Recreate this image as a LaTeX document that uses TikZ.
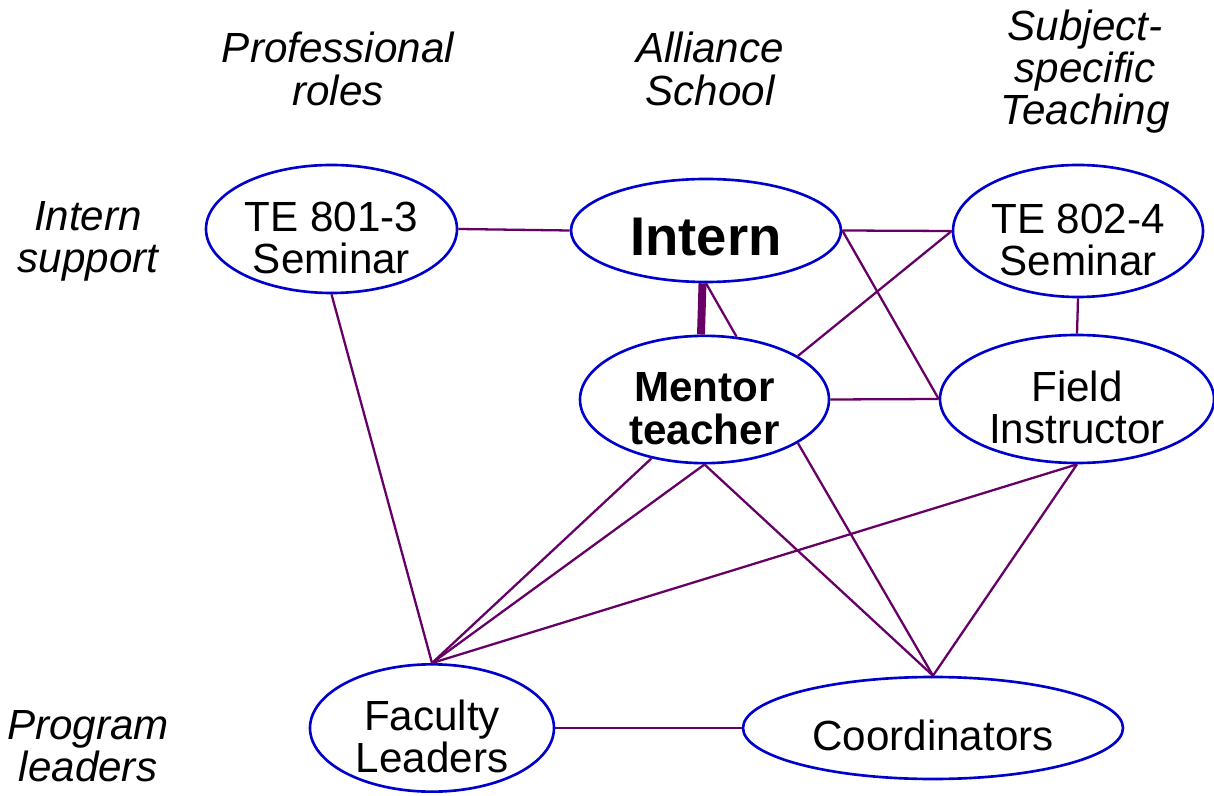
\documentclass[tikz,border=0pt]{standalone}
\usepackage{fontspec}
\setmainfont{Liberation Sans}
\usetikzlibrary{shapes.geometric}
\usepackage{xcolor}
\definecolor{ovalblue}{RGB}{0,0,204}
\definecolor{linkpurple}{RGB}{102,0,102}

\begin{document}
\begin{tikzpicture}[scale=1,
  oval/.style={ellipse, draw=ovalblue, line width=1.5pt, fill=white, inner sep=0pt, align=center, font=\fontsize{24}{24}\selectfont, execute at begin node={\rule{0pt}{#1}}},
  oval/.default=26pt,
  head/.style={align=center, inner sep=0pt, font=\fontsize{24}{24}\selectfont\itshape},
  link/.style={linkpurple, line width=1.3pt},
  biglink/.style={linkpurple, line width=4.5pt}]

\useasboundingbox (0,0) rectangle (24.28,15.9);

% column and row headings
\node[head] (hprof) at (6.76,14.52) {Professional\\roles};
\node[head] (hall) at (14.2,14.52) {Alliance\\School};
\node[head] (hsubj) at (21.7,14.47) {Subject-\\specific\\Teaching};
\node[head] (hsup) at (1.76,11.07) {Intern\\support};
\node[head] (hprog) at (1.76,0.97) {Program\\leaders};

% the ovals
\node[oval=51pt, minimum width=5.02cm, minimum height=2.56cm] (sem1) at (6.63,11.32) {TE 801-3\\Seminar};
\node[oval=29pt, minimum width=5.40cm, minimum height=2.06cm, font=\fontsize{31}{31}\selectfont\bfseries] (intern) at (14.12,11.29) {Intern};
\node[oval=51pt, minimum width=5.00cm, minimum height=2.64cm] (sem2) at (21.56,11.28) {TE 802-4\\Seminar};
\node[oval=51pt, minimum width=4.98cm, minimum height=2.54cm, font=\fontsize{24}{24}\selectfont\bfseries] (mentor) at (14.09,7.91) {Mentor\\teacher};
\node[oval=51pt, minimum width=5.48cm, minimum height=2.56cm] (field) at (21.54,7.92) {Field\\Instructor};
\node[oval=51pt, minimum width=4.88cm, minimum height=2.52cm] (faculty) at (8.64,1.34) {Faculty\\Leaders};
\node[oval, minimum width=7.60cm, minimum height=2.04cm] (coord) at (18.66,1.34) {Coordinators};

% links
\draw[link] (sem1.east) -- (intern.west);
\draw[link] (intern.east) -- (sem2.west);
\draw[biglink] ([xshift=-2pt]intern.south) -- ([xshift=-2pt]mentor.north);
\draw[link] (intern.south) -- (mentor.63);
\draw[link] (intern.east) -- (field.west);
\draw[link] (mentor.25) -- (sem2.west);
\draw[link] (mentor.east) -- (field.west);
\draw[link] (sem2.south) -- (field.north);
\draw[link] (sem1.south) -- (faculty.north);
\draw[link] (mentor.-132) -- (faculty.north);
\draw[link] (mentor.south) -- (faculty.north);
\draw[link] (mentor.south) -- (coord.north);
\draw[link] (mentor.-25) -- (coord.north);
\draw[link] (field.south) -- (faculty.north);
\draw[link] (field.south) -- (coord.north);
\draw[link] (faculty.east) -- (coord.west);

\end{tikzpicture}
\end{document}
